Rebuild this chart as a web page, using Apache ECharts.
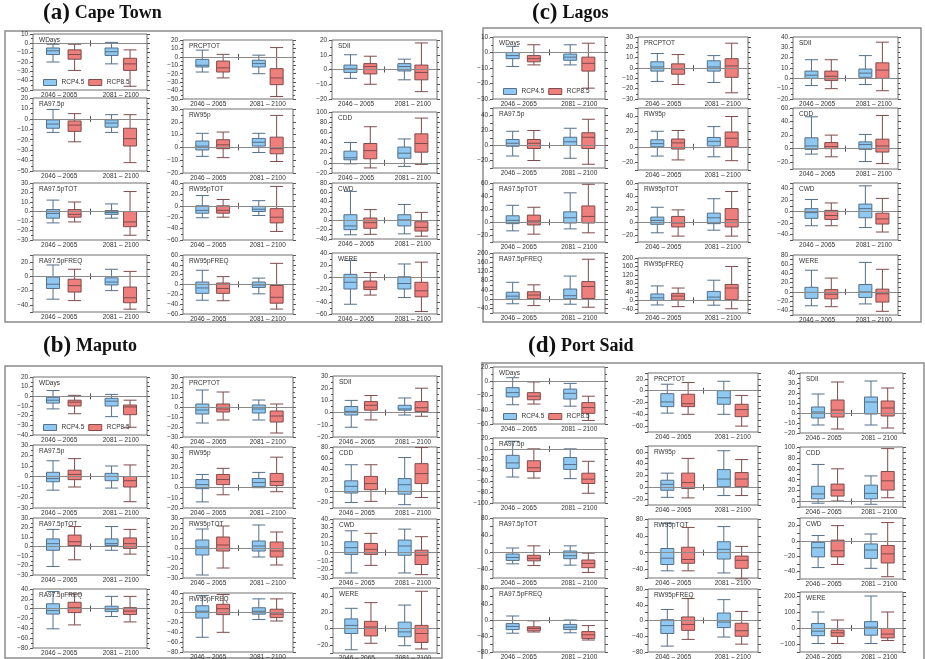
<!DOCTYPE html>
<html><head><meta charset="utf-8">
<script src="https://cdn.jsdelivr.net/npm/echarts@6/dist/echarts.min.js"></script>
<style>html,body{margin:0;padding:0;background:#fff}#c{width:925px;height:659px}</style>
</head><body><div id="c"></div>
<script>
// ---------------- data ----------------
const cities = ['Cape Town', 'Maputo', 'Lagos', 'Port Said'];
const cityLetters = ['(a)', '(b)', '(c)', '(d)'];
const indexNames = ['WDays', 'RA97.5p', 'RA97.5pTOT', 'RA97.5pFREQ',
                    'PRCPTOT', 'RW95p', 'RW95pTOT', 'RW95pFREQ',
                    'SDII', 'CDD', 'CWD', 'WERE'];
const periods = ['2046 \u2013 2065', '2081 \u2013 2100'];
const scenarios = ['RCP4.5', 'RCP8.5'];

// each entry: [box 2046-2065, box 2081-2100], box = [min, Q1, median, Q3, max]
const capeTownRcp45 = [
  [[-20,-12,-8,-5,-1],[-22,-13,-9,-5,1]],
  [[-13,-9,-5,-1,9],[-13,-8,-4,-1,4]],
  [[-12,-7,-2,2,12],[-7,-3,-1,1,8]],
  [[-32,-17,-11,-1,16],[-20,-12,-8,-2,10]],
  [[-18,-12,-10,-3,8],[-20,-12,-8,-4,2]],
  [[-7,-2,1,5,11],[-4,1,4,7,11]],
  [[-21,-13,-8,0,18],[-17,-10,-6,-1,9]],
  [[-32,-18,-7,5,29],[-19,-6,-1,5,13]],
  [[-6,-2,0.5,3,10],[-7,-1,2,4,7]],
  [[-2,6,10,23,40],[-7,9,19,31,47]],
  [[-31,-20,-12,12,62],[-29,-12,1,12,34]],
  [[-44,-19,-8,5,28],[-33,-19,-10,1,22]]
];
const capeTownRcp85 = [
  [[-29,-17,-12,-7,-1],[-46,-29,-22,-16,-7]],
  [[-22,-12,-6,-2,5],[-42,-26,-19,-9,4]],
  [[-11,-6,-3,2,10],[-25,-16,-11,0,21]],
  [[-34,-22,-13,-4,10],[-46,-37,-30,-15,7]],
  [[-25,-18,-13,-5,3],[-47,-33,-25,-14,11]],
  [[-8,-1,2,6,12],[-11,-5,-1,8,25]],
  [[-20,-13,-8,0,11],[-45,-30,-20,-5,34]],
  [[-33,-18,-8,3,16],[-50,-38,-26,-2,43]],
  [[-10,-3,2,4,9],[-15,-7,-2,3,18]],
  [[-10,8,24,38,71],[-3,21,38,57,88]],
  [[-30,-17,-5,5,23],[-34,-23,-15,-3,17]],
  [[-29,-20,-16,-6,8],[-56,-32,-22,-8,25]]
];
// y axis: [min, max, tick step, label step]
const capeTownAxes = [
  [-50,10,10,10],[-50,20,10,10],[-30,30,10,10],[-50,30,10,20],
  [-50,20,10,10],[-20,30,10,10],[-60,40,20,20],[-60,60,20,20],
  [-20,20,10,10],[-20,100,20,20],[-40,80,20,20],[-60,40,20,20]
];

const maputoRcp45 = [
  [[-13,-7,-4,-1,6],[-21,-10,-5,-2,2]],
  [[-13,-5,-2,4,15],[-11,-4,0,3,10]],
  [[-21,-4,3,8,18],[-4,1,3,8,21]],
  [[-41,-11,-4,10,35],[-16,-6,-1,5,25]],
  [[-16,-7,-3,3,17],[-13,-6,-2,2,7]],
  [[-14,-1,3,8,13],[0,1,5,9,15]],
  [[-27,-7,1,8,19],[-9,-3,2,7,23]],
  [[-50,-11,3,14,35],[-14,-3,3,10,28]],
  [[-12,-2,1,5,10],[-2,2,3,6,12]],
  [[-20,-3,9,19,48],[-24,-5,12,23,61]],
  [[-24,-2,6,13,26],[-24,-3,8,15,28]],
  [[-26,-6,4,12,25],[-21,-10,-4,8,29]]
];
const maputoRcp85 = [
  [[-18,-10,-6,-4,1],[-32,-19,-11,-9,-4]],
  [[-10,-3,2,6,17],[-24,-10,-4,0,11]],
  [[-14,1,5,12,21],[-8,-2,3,9,18]],
  [[-33,-8,2,13,30],[-27,-12,-5,2,25]],
  [[-13,-5,-2,3,15],[-26,-15,-9,-4,3]],
  [[-7,3,8,13,19],[-4,2,6,14,30]],
  [[-20,-3,3,11,22],[-17,-9,-3,6,16]],
  [[-40,-4,8,17,37],[-17,-10,-3,7,28]],
  [[-6,2,6,9,14],[-3,1,4,9,20]],
  [[-18,3,14,27,48],[-11,14,32,50,79]],
  [[-15,-2,4,11,23],[-26,-14,-3,3,19]],
  [[-18,-9,2,9,32],[-25,-17,-6,4,46]]
];
const maputoAxes = [
  [-40,20,10,10],[-30,30,10,10],[-30,30,10,10],[-80,40,20,20],
  [-30,30,10,10],[-20,40,10,10],[-30,30,10,10],[-80,40,20,20],
  [-20,30,10,10],[-30,80,10,20],[-30,40,10,10],[-30,50,10,20]
];

const lagosRcp45 = [
  [[-9,-4,-2,0,4],[-8,-5,-3,-1,5]],
  [[-14,-1,3,8,19],[-17,0,5,11,23]],
  [[-13,-2,3,10,26],[-10,-1,7,16,45]],
  [[-20,0,13,30,73],[-22,2,15,44,100]],
  [[-13,-3,1,6,14],[-14,-3,1,7,12]],
  [[-12,0,4,9,20],[-13,1,7,12,26]],
  [[-16,-3,3,8,23],[-12,-2,7,14,36]],
  [[-22,0,12,30,68],[-23,1,15,42,95]],
  [[-7,0,3,7,18],[-6,1,5,9,22]],
  [[-8,-1,4,16,47],[-19,-1,6,10,21]],
  [[-25,-12,-2,5,21],[-28,-11,5,13,45]],
  [[-30,-14,-1,10,47],[-26,-12,0,16,64]]
];
const lagosRcp85 = [
  [[-8,-6,-4,-2,5],[-23,-12,-7,-3,6]],
  [[-20,-4,3,8,20],[-25,-4,11,17,35]],
  [[-18,-4,2,11,23],[-16,-1,9,25,58]],
  [[-28,2,18,32,62],[-35,3,55,76,173]],
  [[-16,-6,-1,4,13],[-24,-9,2,9,24]],
  [[-17,-3,5,10,21],[-18,0,11,19,39]],
  [[-21,-7,-1,9,19],[-21,-7,4,21,47]],
  [[-30,1,20,33,58],[-40,3,58,75,160]],
  [[-10,-2,2,7,18],[-12,0,8,15,35]],
  [[-12,0,3,9,20],[-22,-5,4,14,49]],
  [[-25,-14,-7,2,15],[-36,-22,-13,-3,23]],
  [[-32,-15,-5,5,30],[-42,-22,-4,6,49]]
];
const lagosAxes = [
  [-30,10,10,10],[-30,50,10,20],[-30,60,10,20],[-60,200,20,40],
  [-30,30,10,10],[-30,50,10,20],[-30,60,10,20],[-60,200,20,40],
  [-20,40,10,10],[-30,60,10,20],[-50,50,10,20],[-50,80,10,20]
];

const portSaidRcp45 = [
  [[-33,-22,-16,-9,5],[-35,-25,-17,-11,-3]],
  [[-52,-36,-26,-12,14],[-55,-38,-29,-16,0]],
  [[-27,-19,-12,-4,10],[-30,-15,-8,3,15]],
  [[-33,-24,-16,-9,10],[-32,-24,-18,-11,0]],
  [[-38,-27,-19,-5,11],[-40,-23,-12,0,16]],
  [[-17,-5,5,12,24],[-14,1,14,30,62]],
  [[-43,-28,-13,10,70],[-48,-15,8,26,62]],
  [[-65,-33,-13,2,28],[-42,-18,-4,19,53]],
  [[-12,-5,1,6,19],[-12,-1,11,16,32]],
  [[-3,5,14,28,68],[-5,5,15,30,47]],
  [[-35,-21,-9,-2,7],[-36,-23,-12,-4,9]],
  [[-97,-48,-20,28,100],[-97,-45,5,40,200]]
];
const portSaidRcp85 = [
  [[-32,-26,-21,-16,-1],[-55,-45,-37,-30,-21]],
  [[-54,-42,-35,-22,0],[-82,-64,-56,-45,-23]],
  [[-31,-20,-14,-7,15],[-47,-36,-26,-18,-2]],
  [[-30,-27,-21,-17,-2],[-50,-46,-37,-29,-14]],
  [[-40,-27,-22,-6,14],[-60,-44,-32,-23,-8]],
  [[-18,-2,8,24,49],[-14,1,14,25,47]],
  [[-43,-25,-16,13,60],[-62,-37,-18,-8,15]],
  [[-48,-25,-10,9,56],[-60,-40,-26,-7,23]],
  [[-16,-4,3,13,31],[-15,-3,5,12,25]],
  [[1,10,21,32,60],[7,21,38,55,97]],
  [[-31,-21,-13,1,20],[-47,-29,-17,-6,24]],
  [[-97,-52,-30,-13,50],[-78,-62,-38,-3,100]]
];
const portSaidAxes = [
  [-60,20,20,20],[-100,20,20,20],[-60,80,20,40],[-80,80,20,40],
  [-70,30,10,20],[-30,70,10,20],[-60,80,20,40],[-80,80,20,40],
  [-20,40,10,10],[-10,100,10,20],[-50,30,10,20],[-150,225,50,100]
];

const cityRcp45 = [capeTownRcp45, maputoRcp45, lagosRcp45, portSaidRcp45];
const cityRcp85 = [capeTownRcp85, maputoRcp85, lagosRcp85, portSaidRcp85];
const cityAxes = [capeTownAxes, maputoAxes, lagosAxes, portSaidAxes];

// ---------------- layout (pixels) ----------------
const panelLayout = [
  { frame: [5, 31, 437, 291], title: [43, 2],
    cols: [[33,147],[183,293],[332,437]],
    rows: [[[34,90],[98,171],[183,240],[255,312]],
           [[40,99],[109,173],[183,240],[255,314]],
           [[40,99],[112,173],[183,239],[253,314]]] },
  { frame: [5, 366, 437, 292], title: [43, 335],
    cols: [[33,147],[183,293],[333,437]],
    rows: [[[377,435],[445,508],[518,575],[589,648]],
           [[377,437],[447,508],[518,578],[593,652]],
           [[376,437],[447,508],[519,578],[588,653]]] },
  { frame: [483, 28, 438, 294], title: [532, 2],
    cols: [[493,605],[638,748],[793,898]],
    rows: [[[37,99],[108,168],[183,242],[253,313]],
           [[37,99],[108,170],[183,242],[258,313]],
           [[37,99],[108,169],[183,240],[255,315]]] },
  { frame: [482, 363, 442, 300], title: [528, 335],
    cols: [[493,605],[648,758],[800,903]],
    rows: [[[367,424],[438,503],[518,578],[588,652]],
           [[373,432],[446,505],[519,578],[589,652]],
           [[373,433],[447,507],[518,579],[592,652]]] }
];

const FONT = 'Liberation Sans, Arial, sans-serif';
const N = 37, MID = 18;
const POS = [[6, 25], [13, 31]];           // category slots: [scenario][period]
const LABEL_SLOT = [8, 28];
const cats = Array.from({ length: N }, (_, i) => 'c' + i);
const BW = 13;
const fill = ['#8fc8f0', '#ef7f7d'];
const edge = ['#55708a', '#7e4c4c'];

function fmtTick(v, lab) {
  const q = v / lab;
  if (Math.abs(q - Math.round(q)) > 1e-6) return '';
  return (v < 0 ? '\u2212' : '') + Math.abs(v) + '.';
}

const grid = [], xAxis = [], yAxis = [], series = [], title = [], legend = [], graphic = [];

cities.forEach((city, p) => {
  const L = panelLayout[p];
  graphic.push({ type: 'rect', silent: true, z: -10,
    shape: { x: L.frame[0], y: L.frame[1], width: L.frame[2], height: L.frame[3] },
    style: { fill: 'none', stroke: '#8c8c8c', lineWidth: 1.5 } });
  title.push({ text: '{l|' + cityLetters[p] + '} {n|' + city + '}', left: L.title[0], top: L.title[1], padding: 0,
    textStyle: { rich: {
      l: { fontSize: 23, fontWeight: 'bold', fontFamily: 'Liberation Serif, serif', color: '#111' },
      n: { fontSize: 18, fontWeight: 'bold', fontFamily: 'Liberation Serif, serif', color: '#111' } } } });

  indexNames.forEach((name, k) => {
    const c = Math.floor(k / 4), r = k % 4;
    const [x0, x1] = L.cols[c];
    const [y0, y1] = L.rows[c][r];
    const g = grid.length;
    const [mn, mx, step, lab] = cityAxes[p][k];
    grid.push({ left: x0, top: y0, width: x1 - x0, height: y1 - y0, show: true,
      borderColor: '#707070', borderWidth: 1, backgroundColor: 'rgba(0,0,0,0)',
      containLabel: false, outerBoundsMode: 'none' });
    const xb = xAxis.length;
    const tickCfg = { show: true, alignWithLabel: true, interval: (i) => i === MID, length: 3,
                      lineStyle: { color: '#555' } };
    xAxis.push({ gridIndex: g, type: 'category', data: cats, position: 'bottom', boundaryGap: true,
      axisLine: { show: false }, splitLine: { show: false }, axisTick: tickCfg,
      axisLabel: { interval: 0, fontSize: 6.5, color: '#333', margin: 2, fontFamily: FONT,
        formatter: (v, i) => (i === LABEL_SLOT[0] ? periods[0] : (i === LABEL_SLOT[1] ? periods[1] : '')) } });
    xAxis.push({ gridIndex: g, type: 'category', data: cats, position: 'top', boundaryGap: true,
      axisLine: { show: false }, splitLine: { show: false }, axisTick: tickCfg,
      axisLabel: { show: false } });
    const yl = yAxis.length;
    const yCommon = { gridIndex: g, type: 'value', min: mn, max: mx, interval: step,
      axisLine: { show: false }, splitLine: { show: false },
      axisTick: { show: true, inside: false, length: 3, lineStyle: { color: '#555' } },
      minorTick: { show: step === lab, splitNumber: 2, length: 2, lineStyle: { color: '#555' } } };
    yAxis.push(Object.assign({}, yCommon, { position: 'left',
      axisLabel: { fontSize: 6.5, color: '#333', margin: 3, fontFamily: FONT, formatter: (v) => fmtTick(v, lab) } }));
    yAxis.push(Object.assign({}, yCommon, { position: 'right', axisLabel: { show: false } }));

    [cityRcp45[p][k], cityRcp85[p][k]].forEach((boxes, s) => {
      const ser = { type: 'boxplot', name: scenarios[s], xAxisIndex: xb + s, yAxisIndex: yl,
        encode: { x: 0, y: [1, 2, 3, 4, 5] },
        data: periods.map((per, j) => [POS[s][j]].concat(boxes[j])),
        boxWidth: [BW, BW], silent: true,
        itemStyle: { color: fill[s], borderColor: edge[s], borderWidth: 1 } };
      if (s === 0) {
        ser.markLine = { silent: true, symbol: ['none', 'none'], label: { show: false },
          lineStyle: { color: '#8a8a8a', width: 1, type: 'solid' }, data: [{ yAxis: 0 }] };
      }
      series.push(ser);
    });

    title.push({ text: name, left: x0 + 6, top: y0 + 3, padding: 0,
      textStyle: { fontSize: 6.5, fontWeight: 'normal', color: '#333', fontFamily: FONT } });

    if (k === 0) {
      legend.push({
        data: scenarios.map((s, i) => ({ name: s, icon: 'rect',
          itemStyle: { color: fill[i], borderColor: edge[i], borderWidth: 1 } })),
        left: x0 + 10, top: y1 - 11, padding: 0,
        itemWidth: 13, itemHeight: 6, itemGap: 4, selectedMode: false,
        textStyle: { fontSize: 6.5, color: '#333', fontFamily: FONT } });
    }
  });
});

const chart = echarts.init(document.getElementById('c'), null, { renderer: 'canvas' });
chart.setOption({
  animation: false, backgroundColor: '#ffffff',
  title, legend, grid, xAxis, yAxis, series, graphic
});
</script>
</body></html>
